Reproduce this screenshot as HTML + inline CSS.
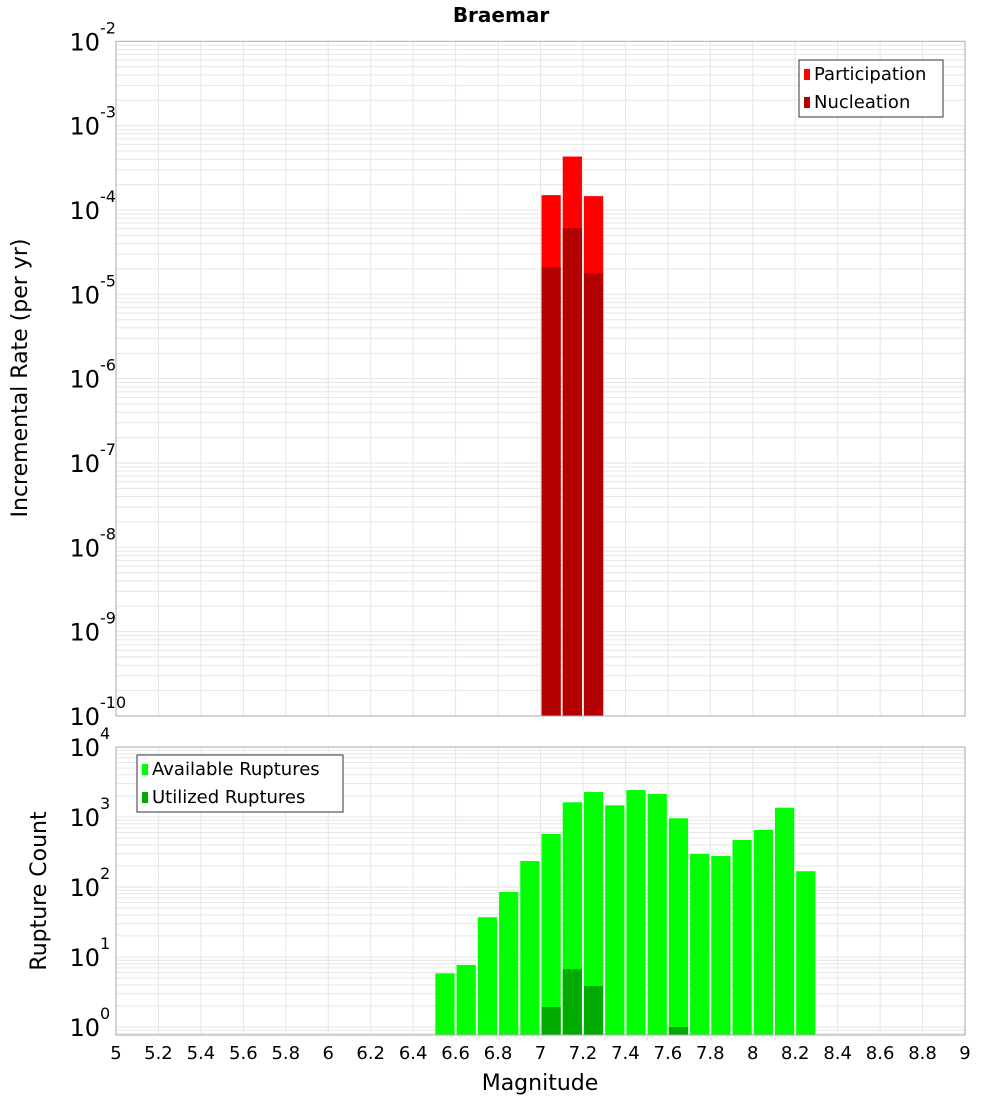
<!DOCTYPE html>
<html><head><meta charset="utf-8"><style>
body{margin:0;background:#fff;}
svg text{font-family:"DejaVu Sans","Liberation Sans",sans-serif;}
</style></head><body>
<svg id="c" width="1000" height="1100" xmlns="http://www.w3.org/2000/svg">
<text x="501" y="22" text-anchor="middle" font-size="20" font-weight="bold">Braemar</text>
<text transform="translate(27,378) rotate(-90)" text-anchor="middle" font-size="22">Incremental Rate (per yr)</text>
<text transform="translate(46,891) rotate(-90)" text-anchor="middle" font-size="22">Rupture Count</text>
<text x="540" y="1090" text-anchor="middle" font-size="22">Magnitude</text>
<g id="g"></g>
</svg>
<script>
const magBins=[7.05,7.15,7.25];
const participation=[1.5e-4,4.3e-4,1.46e-4];
const nucleation=[2.1e-5,6.1e-5,1.78e-5];
const availBins=[6.55,6.65,6.75,6.85,6.95,7.05,7.15,7.25,7.35,7.45,7.55,7.65,7.75,7.85,7.95,8.05,8.15,8.25];
const available=[5.85,7.7,37,85,235,571,1622,2277,1469,2430,2130,958,296,277,469,652,1358,168];
const utilBins=[7.05,7.15,7.25,7.65];
const utilized=[1.93,6.7,3.85,1.0];
const xTicks=["5","5.2","5.4","5.6","5.8","6","6.2","6.4","6.6","6.8","7","7.2","7.4","7.6","7.8","8","8.2","8.4","8.6","8.8","9"];
const topExp=[-2,-3,-4,-5,-6,-7,-8,-9,-10];
const botExp=[4,3,2,1,0];

const NS="http://www.w3.org/2000/svg";
const g=document.getElementById('g');
function el(t,a,p){const e=document.createElementNS(NS,t);for(const k in a)e.setAttribute(k,a[k]);(p||g).appendChild(e);return e;}
const L=116,R=965;
const x=m=>L+(m-5)*(R-L)/4;
const T1=41.3,B1=716;
const y1=v=>T1+(-2-Math.log10(v))*(B1-T1)/8;
const T2=747,B2=1035;
const y2=v=>1027-Math.log10(v)*70;

function grid(top,bot,yf,decLo,decHi){
  for(let d=decLo;d<decHi;d++)for(let k=1;k<10;k++){const yy=yf(k*Math.pow(10,d));if(yy<top-0.5||yy>bot+0.5)continue;
    const l=el('line',{x1:L,x2:R,y1:yy,y2:yy,stroke:'#e6e6e6','stroke-width':1});
    
    }
  for(let i=0;i<xTicks.length;i++){const xx=x(+xTicks[i]);
    const l=el('line',{x1:xx,x2:xx,y1:top,y2:bot,stroke:'#e6e6e6','stroke-width':1});
    
    }
}
grid(T1,B1,y1,-10,-2);
grid(T2,B2,y2,-1,4);

function bar(m,v,yf,base,color,name){
  const x0=x(m-0.05)+1,x1=x(m+0.05)-1,yt=yf(v);
  const r=el('rect',{x:x0,y:yt,width:x1-x0,height:base-yt,fill:color});
  
  
}
magBins.forEach((m,i)=>bar(m,participation[i],y1,B1,'#ff0000','participation-bar'));
magBins.forEach((m,i)=>bar(m,nucleation[i],y1,B1,'#b30000','nucleation-bar'));
availBins.forEach((m,i)=>bar(m,available[i],y2,B2,'#00ff00','available-bar'));
utilBins.forEach((m,i)=>bar(m,utilized[i],y2,B2,'#00aa00','utilized-bar'));

[[T1,B1],[T2,B2]].forEach(([t,b])=>{const r=el('rect',{x:L,y:t,width:R-L,height:b-t,fill:'none',stroke:'#aaaaaa','stroke-width':1});
  
  });

function ylab(yy,e,name){
  const t=el('text',{x:100,y:yy+9,'text-anchor':'end','font-size':24});
  
  
  t.textContent='10';
  const s=el('text',{x:100,y:yy-8,'font-size':16});
  
  
  s.textContent=String(e);
}
topExp.forEach(e=>ylab(y1(Math.pow(10,e)),e,'top-y-tick-label'));
botExp.forEach(e=>ylab(y2(Math.pow(10,e)),e,'bottom-y-tick-label'));
xTicks.forEach(s=>{const t=el('text',{x:x(+s),y:1059,'text-anchor':'middle','font-size':18});
  
  
  t.textContent=s;});

function legend(x0,y0,w,items,name){
  const lg=el('g',{});
  
  
  el('rect',{x:x0,y:y0,width:w,height:57,fill:'#fff',stroke:'#333','stroke-width':1},lg);
  items.forEach((it,i)=>{
    el('rect',{x:x0+5,y:y0+9+i*28,width:6,height:11,fill:it[1]},lg);
    const t=el('text',{x:x0+15,y:y0+20+i*28,'font-size':18},lg);
    
    
    t.textContent=it[0];
  });
}
legend(799,60,144,[['Participation','#ff0000'],['Nucleation','#b30000']],'top-legend');
legend(137,755,206,[['Available Ruptures','#00ff00'],['Utilized Ruptures','#00aa00']],'bottom-legend');
</script>
</body></html>
